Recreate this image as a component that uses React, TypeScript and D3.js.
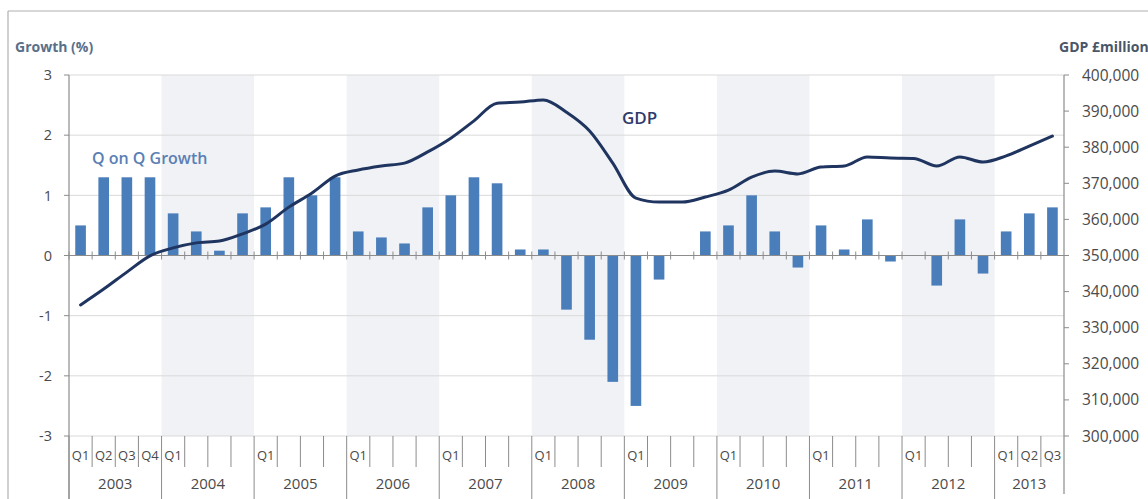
import React from "react";
import * as d3 from "d3";

const years = ["2003", "2004", "2005", "2006", "2007", "2008", "2009", "2010", "2011", "2012", "2013"];
const quarterLabels = [
  "Q1", "Q2", "Q3", "Q4",
  "Q1", "", "", "",
  "Q1", "", "", "",
  "Q1", "", "", "",
  "Q1", "", "", "",
  "Q1", "", "", "",
  "Q1", "", "", "",
  "Q1", "", "", "",
  "Q1", "", "", "",
  "Q1", "", "", "",
  "Q1", "Q2", "Q3",
];
const growth = [
  0.5, 1.3, 1.3, 1.3,
  0.7, 0.4, 0.08, 0.7,
  0.8, 1.3, 1.0, 1.3,
  0.4, 0.3, 0.2, 0.8,
  1.0, 1.3, 1.2, 0.1,
  0.1, -0.9, -1.4, -2.1,
  -2.5, -0.4, 0.0, 0.4,
  0.5, 1.0, 0.4, -0.2,
  0.5, 0.1, 0.6, -0.1,
  0.0, -0.5, 0.6, -0.3,
  0.4, 0.7, 0.8,
];
const gdp = [
  336300, 340700, 345400, 349900,
  352100, 353500, 354000, 356000,
  358700, 363400, 367300, 372000,
  373700, 374800, 375600, 378700,
  382500, 387300, 392200, 392500,
  393100, 389700, 384500, 375600,
  365900, 364800, 364800, 366200,
  368100, 371700, 373400, 372600,
  374500, 374800, 377300, 377000,
  376900, 374800, 377300, 375900,
  377600, 380300, 383100,
];
const leftTicks = [-3, -2, -1, 0, 1, 2, 3];
const rightTicks = [300000, 310000, 320000, 330000, 340000, 350000, 360000, 370000, 380000, 390000, 400000];
const shadedYears = ["2004", "2006", "2008", "2010", "2012"];

const W = 1148, H = 499;
const X0 = 69, X1 = 1064, Y0 = 75, Y1 = 436;
const FONT = "'Open Sans', 'Noto Sans', sans-serif";

export default function App() {
  const idx = growth.map((_, i) => String(i));
  const x = d3.scaleBand<string>().domain(idx).range([X0, X1]).paddingInner(0).paddingOuter(0);
  const bw = x.bandwidth();
  const yL = d3.scaleLinear().domain([-3, 3]).range([Y1, Y0]);
  const yR = d3.scaleLinear().domain([300000, 400000]).range([Y1, Y0]);
  const line = d3
    .line<number>()
    .x((_, i) => (x(String(i)) as number) + bw / 2)
    .y((d) => yR(d))
    .curve(d3.curveMonotoneX);
  const fmt = d3.format(",");
  const yearStart = (yi: number) => x(String(yi * 4)) as number;
  const yearEnd = (yi: number) => {
    const last = Math.min(yi * 4 + 3, growth.length - 1);
    return (x(String(last)) as number) + bw;
  };
  const barW = bw * 0.46;
  const tickColor = "#8c8c8c";
  const labelColor = "#4a4a4a";

  return (
    <svg width={W} height={H} style={{ position: "absolute", left: 0, top: 0, background: "#fff" }} fontFamily={FONT}>
      <rect x={0} y={0} width={W} height={H} fill="#fff" />
      {/* frame */}
      <line x1={8} x2={W} y1={11} y2={11} stroke="#b0b0b0" strokeWidth={1.2} />
      <line x1={8} x2={8} y1={11} y2={H} stroke="#b0b0b0" strokeWidth={1.2} />

      {/* shaded year bands */}
      {shadedYears.map((yr) => {
        const yi = years.indexOf(yr);
        return (
          <rect key={yr} x={yearStart(yi)} y={Y0} width={yearEnd(yi) - yearStart(yi)} height={Y1 - Y0} fill="#f0f2f5" />
        );
      })}

      {/* gridlines */}
      {leftTicks.map((t) => (
        <line key={t} x1={X0} x2={X1} y1={yL(t)} y2={yL(t)} stroke="#d9d9d9" strokeWidth={1} />
      ))}

      {/* bars */}
      {growth.map((v, i) => {
        const cx = (x(String(i)) as number) + bw / 2;
        return (
          <rect
            key={i}
            x={cx - barW / 2}
            y={Math.min(yL(v), yL(0))}
            width={barW}
            height={Math.abs(yL(v) - yL(0))}
            fill="#4a7ebb"
          />
        );
      })}

      {/* zero axis with tick marks */}
      <line x1={X0} x2={X1} y1={yL(0)} y2={yL(0)} stroke={tickColor} strokeWidth={1.2} />
      {growth.map((_, i) => (
        <line key={i} x1={x(String(i)) as number} x2={x(String(i)) as number} y1={yL(0) - 4} y2={yL(0) + 4} stroke={tickColor} strokeWidth={1} />
      ))}

      {/* GDP line */}
      <path d={line(gdp) || ""} fill="none" stroke="#1f3560" strokeWidth={3} strokeLinejoin="round" strokeLinecap="round" />

      {/* left axis */}
      <line x1={X0} x2={X0} y1={Y0} y2={H} stroke={tickColor} strokeWidth={1.2} />
      {leftTicks.map((t) => (
        <g key={t}>
          <line x1={X0 - 5} x2={X0} y1={yL(t)} y2={yL(t)} stroke={tickColor} />
          <text x={52} y={yL(t)} dy="0.36em" textAnchor="end" fontSize={14.5} fill={labelColor}>{t}</text>
        </g>
      ))}

      {/* right axis */}
      <line x1={X1} x2={X1} y1={Y0} y2={H - 5} stroke={tickColor} strokeWidth={1.2} />
      {rightTicks.map((t) => (
        <g key={t}>
          <line x1={X1} x2={X1 + 5} y1={yR(t)} y2={yR(t)} stroke={tickColor} />
          <text x={1082} y={yR(t)} dy="0.36em" textAnchor="start" fontSize={15.5} fill={labelColor}>{fmt(t)}</text>
        </g>
      ))}

      {/* category axis: quarter ticks */}
      {growth.map((_, i) => {
        const xs = x(String(i)) as number;
        const isYear = i % 4 === 0;
        return (
          <line key={i} x1={xs} x2={xs} y1={Y1} y2={isYear ? H : 467} stroke={tickColor} strokeWidth={1} />
        );
      })}
      {quarterLabels.map((q, i) =>
        q ? (
          <text key={i} x={(x(String(i)) as number) + bw / 2} y={455} dy="0.36em" textAnchor="middle" fontSize={13} fill={labelColor}>{q}</text>
        ) : null
      )}
      {years.map((yr, yi) => (
        <text key={yr} x={(yearStart(yi) + yearEnd(yi)) / 2} y={484} dy="0.36em" textAnchor="middle" fontSize={15} fill={labelColor}>{yr}</text>
      ))}

      {/* titles & annotations */}
      <text x={15} y={47} dy="0.36em" fontSize={14} fontWeight="bold" fill="#5a6f8a">Growth (%)</text>
      <text x={1059} y={47} dy="0.36em" fontSize={14} fontWeight="bold" fill="#4a5668">GDP £million</text>
      <text x={92} y={158} dy="0.36em" fontSize={16} fontWeight={600} fill="#5b7fb5">Q on Q Growth</text>
      <text x={622} y={118} dy="0.36em" fontSize={17} fontWeight={600} fill="#2e3b6b">GDP</text>
    </svg>
  );
}
